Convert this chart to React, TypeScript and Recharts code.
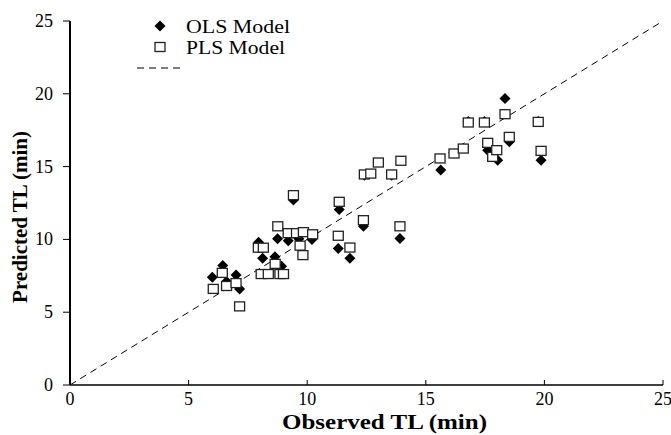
import { ScatterChart, Scatter, XAxis, YAxis, ReferenceLine } from 'recharts';

const axisTicks = [0, 5, 10, 15, 20, 25];

// OLS model: observed vs predicted TL (min)
const olsObserved = [6.0, 6.44, 6.6, 7.0, 7.15, 7.95, 8.12, 8.64, 8.75, 8.85, 8.92, 9.2, 9.42, 9.65, 10.2, 11.31, 11.35, 11.8, 12.37, 12.41, 13.56, 13.91, 15.63, 16.79, 17.47, 17.61, 18.03, 18.34, 18.52, 19.74, 19.86];
const olsPredicted = [7.4, 8.2, 7.1, 7.55, 6.6, 9.8, 8.7, 8.8, 10.05, 7.85, 8.15, 9.9, 12.7, 10.05, 10.0, 9.38, 12.06, 8.7, 10.9, 14.4, 14.4, 10.07, 14.76, 18.1, 18.1, 16.13, 15.44, 19.68, 16.7, 18.1, 15.44];

// PLS model
const plsObserved = [6.04, 6.42, 6.6, 7.0, 7.15, 7.94, 8.15, 8.06, 8.36, 8.65, 8.76, 8.85, 9.0, 9.2, 9.42, 9.55, 9.84, 9.7, 9.82, 10.23, 11.31, 11.35, 11.8, 12.37, 12.41, 12.68, 13.0, 13.56, 13.91, 13.95, 15.6, 16.19, 16.58, 16.79, 17.47, 17.61, 17.82, 17.99, 18.34, 18.52, 19.74, 19.86];
const plsPredicted = [6.6, 7.7, 6.8, 7.0, 5.4, 9.43, 9.43, 7.62, 7.62, 8.32, 10.9, 7.62, 7.62, 10.43, 13.04, 10.43, 10.5, 9.57, 8.92, 10.35, 10.25, 12.58, 9.44, 11.32, 14.46, 14.52, 15.28, 14.46, 10.9, 15.4, 15.56, 15.9, 16.24, 18.03, 18.03, 16.63, 15.67, 16.13, 18.6, 17.04, 18.07, 16.08];

const olsData = olsObserved.map((x, i) => ({ x, y: olsPredicted[i] }));
const plsData = plsObserved.map((x, i) => ({ x, y: plsPredicted[i] }));

const serif = '"Liberation Serif", "Times New Roman", serif';

const Diamond = (p: any) => (
  <polygon
    points={`${p.cx},${p.cy - 5.5} ${p.cx + 5.5},${p.cy} ${p.cx},${p.cy + 5.5} ${p.cx - 5.5},${p.cy}`}
    fill="#000"
  />
);

const Square = (p: any) => (
  <rect x={p.cx - 5} y={p.cy - 4.5} width={10} height={9} fill="#fff" stroke="#222" strokeWidth={1.3} />
);

// tick labels in Times-like font
const XTick = (p: any) => (
  <text x={p.x} y={p.y} textAnchor="middle" dominantBaseline="central" fontSize={18} fontFamily={serif} fill="#000">
    {p.payload.value}
  </text>
);

const YTick = (p: any) => (
  <text x={p.x} y={p.y} textAnchor="end" dominantBaseline="central" fontSize={18} fontFamily={serif} fill="#000">
    {p.payload.value}
  </text>
);

// legend drawn on top of the chart, upper left of the plot
const LegendBox = () => (
  <svg width={200} height={72} style={{ position: 'absolute', left: 130, top: 8, fontFamily: serif }}>
    <polygon points="30,12.5 35.5,18 30,23.5 24.5,18" fill="#000" />
    <text x={56} y={18} fontSize={19} dominantBaseline="central" fill="#000" textLength={104} lengthAdjust="spacingAndGlyphs">OLS Model</text>
    <rect x={25} y={34.5} width={10} height={9} fill="#fff" stroke="#222" strokeWidth={1.3} />
    <text x={56} y={39} fontSize={19} dominantBaseline="central" fill="#000" textLength={99} lengthAdjust="spacingAndGlyphs">PLS Model</text>
    <line x1={7} y1={60} x2={52} y2={60} stroke="#000" strokeWidth={1} strokeDasharray="7 5" />
  </svg>
);

const YTitle = (props: any) => {
  const { viewBox } = props;
  const x = viewBox.x + 20;
  const y = viewBox.y + viewBox.height / 2 + 14;
  return (
    <text x={x} y={y} transform={`rotate(-90, ${x}, ${y})`} textAnchor="middle" dominantBaseline="central"
      fontSize={21} fontWeight="bold" fontFamily={serif} fill="#000">
      Predicted TL (min)
    </text>
  );
};

const XTitle = (props: any) => {
  const { viewBox } = props;
  const x = viewBox.x + viewBox.width / 2 + 18;
  return (
    <text x={x} y={422} textAnchor="middle" dominantBaseline="central" textLength={205} lengthAdjust="spacingAndGlyphs"
      fontSize={20} fontWeight="bold" fontFamily={serif} fill="#000">
      Observed TL (min)
    </text>
  );
};

export default function App() {
  return (
    <div style={{ position: 'absolute', left: 0, top: 0, width: 671, height: 435, background: '#fff', fontFamily: serif }}>
      <ScatterChart width={671} height={435} margin={{ top: 21, right: 8, left: 0, bottom: 0 }}>
        <XAxis
          type="number"
          dataKey="x"
          domain={[0, 25]}
          ticks={axisTicks}
          interval={0}
          height={50}
          axisLine={{ stroke: '#000', strokeWidth: 1.5 }}
          tickLine={{ stroke: '#000' }}
          tickSize={-5}
          tickMargin={19}
          tick={<XTick />}
          label={<XTitle />}
        />
        <YAxis
          type="number"
          dataKey="y"
          domain={[0, 25]}
          ticks={axisTicks}
          interval={0}
          width={70}
          axisLine={{ stroke: '#000', strokeWidth: 2 }}
          tickLine={{ stroke: '#000' }}
          tickSize={7}
          tickMargin={10}
          tick={<YTick />}
          label={<YTitle />}
        />
        <ReferenceLine
          segment={[{ x: 0, y: 0 }, { x: 25, y: 25 }]}
          stroke="#000"
          strokeWidth={1}
          strokeDasharray="7 5"
        />
        <Scatter name="OLS Model" data={olsData} shape={<Diamond />} isAnimationActive={false} />
        <Scatter name="PLS Model" data={plsData} shape={<Square />} isAnimationActive={false} />
      </ScatterChart>
      <LegendBox />
    </div>
  );
}
